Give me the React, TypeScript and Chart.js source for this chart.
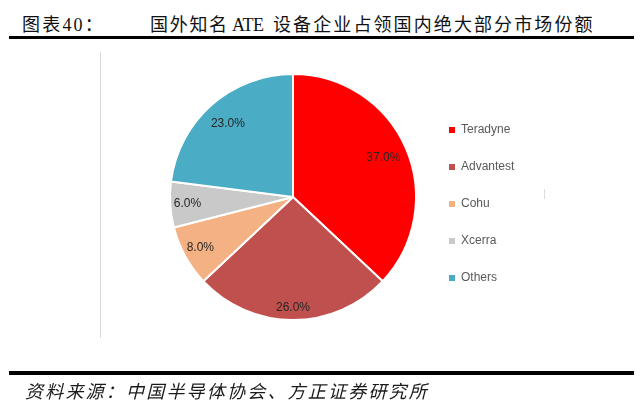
import React, { useEffect, useRef } from "react";
import { Chart, registerables } from "chart.js";

Chart.register(...registerables);

// ---- data ----
const categories = ["Teradyne", "Advantest", "Cohu", "Xcerra", "Others"];
const shares = [37.0, 26.0, 8.0, 6.0, 23.0];

// ---- texts ----
const titleLead = "图表40：";
const titlePart1 = "国外知名";
const titleLatin = "ATE";
const titlePart2 = "设备企业占领国内绝大部分市场份额";
const sourceText = "资料来源：中国半导体协会、方正证券研究所";

// ---- styles ----
const sliceColors = ["#FF0000", "#C0504D", "#F4B183", "#C9C9C9", "#4BACC6"];
const labelRadiusFraction = [0.8, 0.9, 0.86, 0.86, 0.8];
const SANS = "'Liberation Sans', Arial, sans-serif";
const CJK = "'Liberation Serif', 'Noto Sans CJK SC', serif";

const sliceLabelPlugin = {
  id: "sliceLabels",
  afterDatasetsDraw(chart: any) {
    const ctx = chart.ctx;
    const meta = chart.getDatasetMeta(0);
    const values = chart.data.datasets[0].data as number[];
    ctx.save();
    ctx.font = `12px ${SANS}`;
    ctx.fillStyle = "#262626";
    ctx.textAlign = "center";
    ctx.textBaseline = "middle";
    meta.data.forEach((arc: any, i: number) => {
      const p = arc.getProps(["x", "y", "startAngle", "endAngle", "outerRadius"], true);
      const mid = (p.startAngle + p.endAngle) / 2;
      const r = p.outerRadius * labelRadiusFraction[i];
      ctx.fillText(
        Number(values[i]).toFixed(1) + "%",
        p.x + Math.cos(mid) * r,
        p.y + Math.sin(mid) * r
      );
    });
    ctx.restore();
  },
};

function PieChart() {
  const ref = useRef<HTMLCanvasElement | null>(null);
  useEffect(() => {
    if (!ref.current) return;
    const baseGen = (Chart as any).overrides?.doughnut?.plugins?.legend?.labels?.generateLabels;
    const chart = new Chart(ref.current, {
      type: "pie",
      data: {
        labels: categories,
        datasets: [
          {
            data: shares,
            backgroundColor: sliceColors,
            borderColor: "#FFFFFF",
            borderWidth: 2,
            hoverOffset: 0,
            radius: 123,
          } as any,
        ],
      },
      options: {
        responsive: false,
        animation: false,
        radius: 123,
        layout: { padding: { left: 162, right: 121, top: 60, bottom: 73 } },
        plugins: {
          legend: {
            position: "right",
            align: "center",
            maxWidth: 95,
            title: {
              display: true,
              text: " ",
              padding: 0,
              font: { size: 14, lineHeight: 1 },
            },
            labels: {
              boxWidth: 6,
              boxHeight: 6,
              padding: 25,
              color: "#595959",
              font: { family: SANS, size: 12 },
              generateLabels: (c: any) =>
                (baseGen ? baseGen(c) : []).map((l: any) => ({ ...l, lineWidth: 0 })),
            },
          },
          tooltip: { enabled: false },
        },
      } as any,
      plugins: [sliceLabelPlugin],
    });
    return () => chart.destroy();
  }, []);
  return (
    <canvas
      ref={ref}
      width={640}
      height={407}
      style={{ position: "absolute", left: 0, top: 0, width: 640, height: 407 }}
    />
  );
}

export default function App() {
  const textBase: React.CSSProperties = {
    position: "absolute",
    whiteSpace: "nowrap",
    color: "#111",
    lineHeight: "24px",
  };
  return (
    <div
      style={{
        position: "absolute",
        left: 0,
        top: 0,
        width: 640,
        height: 407,
        background: "#fff",
        overflow: "hidden",
      }}
    >
      <span style={{ ...textBase, left: 22, top: 12.5, fontFamily: CJK, fontSize: 18, letterSpacing: 2.2 }}>
        {titleLead}
      </span>
      <span style={{ ...textBase, left: 150, top: 12.5, fontFamily: CJK, fontSize: 18, letterSpacing: 1.7 }}>
        {titlePart1}
      </span>
      <span style={{ ...textBase, left: 232, top: 12.5, fontFamily: CJK, fontSize: 18, letterSpacing: -0.5 }}>
        {titleLatin}
      </span>
      <span style={{ ...textBase, left: 273, top: 12.5, fontFamily: CJK, fontSize: 18, letterSpacing: 2.1 }}>
        {titlePart2}
      </span>
      <div style={{ position: "absolute", left: 9, top: 36, width: 625, height: 3, background: "#000" }} />
      <div style={{ position: "absolute", left: 100, top: 52, width: 1, height: 286, background: "#D9D9D9" }} />
      <div style={{ position: "absolute", left: 544, top: 189, width: 1, height: 10, background: "#DDDDDD" }} />
      <PieChart />
      <div style={{ position: "absolute", left: 9, top: 371, width: 625, height: 4, background: "#000" }} />
      <span
        style={{
          ...textBase,
          left: 25,
          top: 379.5,
          fontFamily: CJK,
          fontSize: 18,
          fontStyle: "italic",
          letterSpacing: 2.2,
          color: "#1a1a1a",
        }}
      >
        {sourceText}
      </span>
    </div>
  );
}
